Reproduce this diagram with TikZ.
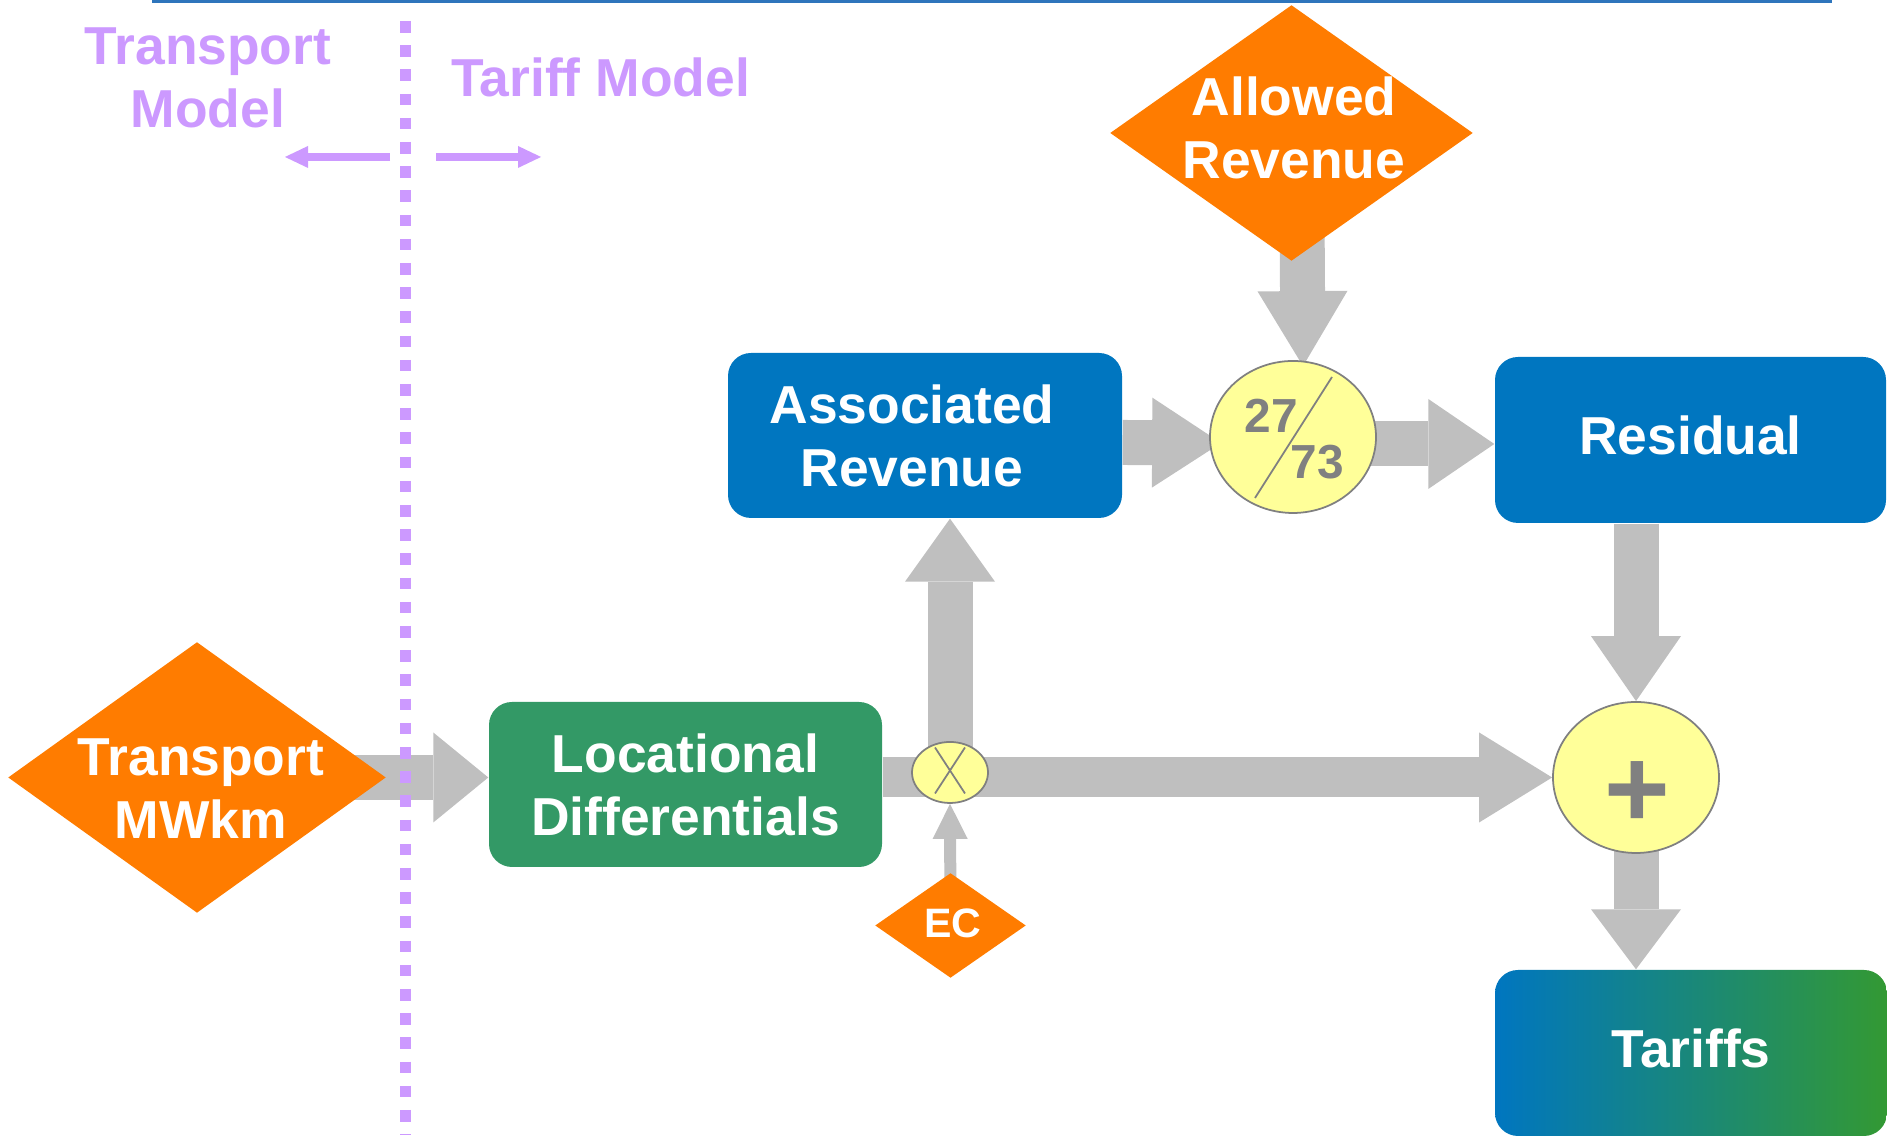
\documentclass[tikz,border=0pt]{standalone}
\usepackage{fontspec}
\setmainfont{Liberation Sans}
\usetikzlibrary{shapes.geometric,arrows.meta,calc,backgrounds}
\definecolor{topblue}{RGB}{46,117,188}
\definecolor{boxblue}{RGB}{0,118,192}
\definecolor{boxgreen}{RGB}{51,153,102}
\definecolor{tariffgreen}{RGB}{51,153,51}
\definecolor{diaorange}{RGB}{255,124,0}
\definecolor{flowgray}{RGB}{191,191,191}
\definecolor{opyellow}{RGB}{255,255,153}
\definecolor{opgray}{RGB}{128,128,128}
\definecolor{modelpurple}{RGB}{204,153,255}
\tikzset{
  bigfont/.style={font=\fontsize{15.2}{17.9}\selectfont\bfseries},
  procbox/.style={rectangle,rounded corners=0.23cm,minimum width=3.93cm,minimum height=1.65cm,
    inner sep=0pt,bigfont,text=white,align=center},
  inputdia/.style={diamond,fill=diaorange,inner sep=0pt},
  diatext/.style={bigfont,text=white,align=center,inner sep=0pt},
  modeltext/.style={bigfont,text=modelpurple,align=center,inner sep=0pt},
  opnode/.style={ellipse,draw=opgray,line width=0.5pt,fill=opyellow,inner sep=0pt},
  optext/.style={font=\fontsize{13.6}{16}\selectfont\bfseries,text=opgray,inner sep=0pt},
  fatarrow/.style={draw=flowgray,line width=0.45cm,-{Triangle[width=0.9cm,length=#1,line width=0pt]}},
  fatarrow/.default=0.66cm,
  thinarrow/.style={draw=#1,line width=0.08cm,-{Triangle[width=0.22cm,length=0.23cm,line width=0pt]}}
}
\begin{document}
\begin{tikzpicture}
\useasboundingbox (0,0) rectangle (18.87,11.47);
\draw[topblue,line width=0.03cm] (1.52,11.455) -- (18.32,11.455);

\node[modeltext] (transportmodel) at (2.08,10.695) {Transport\\Model};
\node[modeltext] (tariffmodel) at (6.005,10.695) {Tariff Model};
\coordinate (modelsplitL) at (3.90,9.90);
\coordinate (modelleft) at (2.85,9.90);
\coordinate (modelsplitR) at (4.36,9.90);
\coordinate (modelright) at (5.41,9.90);
\draw[thinarrow=modelpurple] (modelsplitL) -- (modelleft);
\draw[thinarrow=modelpurple] (modelsplitR) -- (modelright);

\node[inputdia,minimum width=3.78cm,minimum height=2.71cm] (transport) at (1.97,3.695) {};
\node[diatext] (transporttext) at (2.01,3.585) {Transport\\MWkm};
\node[inputdia,minimum width=3.63cm,minimum height=2.56cm] (allowed) at (12.915,10.14) {};
\node[diatext] (allowedtext) at (12.94,10.195) {Allowed\\Revenue};
\node[inputdia,minimum width=1.51cm,minimum height=1.05cm] (ec) at (9.505,2.215) {};
\node[diatext,font=\fontsize{11.7}{14}\selectfont\bfseries] (ectext) at (9.53,2.24) {EC};

\node[procbox,fill=boxgreen] (locdiff) at (6.855,3.625) {Locational\\Differentials};
\node[procbox,fill=boxblue,minimum width=3.94cm] (assoc) at (9.25,7.115) {};
\node[diatext] (assoctext) at (9.12,7.115) {Associated\\Revenue};
\node[procbox,fill=boxblue,minimum width=3.91cm,minimum height=1.66cm,text depth=0.1cm] (residual) at (16.905,7.07) {Residual};
\node[procbox,left color=boxblue,right color=tariffgreen,minimum width=3.92cm,minimum height=1.66cm,text depth=0.1cm] (tariffs) at (16.91,0.94) {Tariffs};

\node[opnode,minimum width=1.66cm,minimum height=1.52cm] (split) at (12.93,7.10) {};
\node[optext] (share27) at (12.71,7.315) {27};
\node[optext] (share73) at (13.17,6.845) {73};
\draw[opgray,line width=0.5pt] ($(split)+(0.39,0.60)$) -- ($(split)+(-0.38,-0.61)$);
\node[opnode,minimum width=0.76cm,minimum height=0.61cm] (cross) at (9.50,3.745) {};
\draw[opgray,line width=0.5pt] ($(cross)+(-0.15,0.25)$) -- ($(cross)+(0.15,-0.21)$);
\draw[opgray,line width=0.5pt] ($(cross)+(0.15,0.25)$) -- ($(cross)+(-0.15,-0.21)$);
\node[opnode,minimum width=1.66cm,minimum height=1.51cm] (plus) at (16.36,3.695) {};
\node[optext,font=\fontsize{32}{36}\selectfont\bfseries] (plustext) at (16.37,3.52) {+};

\begin{scope}[on background layer]
\draw[fatarrow=0.55cm] (transport.center) -- (transport.center -| locdiff.west);
\draw[fatarrow=0.73cm,line width=0.40cm] (locdiff.east |- plus.west) -- (plus.west);
\draw[fatarrow=0.63cm] (cross.center) -- (cross.center |- assoc.south);
\draw[draw=flowgray,line width=0.12cm,-{Triangle[width=0.35cm,length=0.35cm,line width=0pt]}] (ec.center) -- (cross.south);
\draw[fatarrow=0.69cm] ($(assoc.east)+(0,-0.07)$) -- ($(split.west)+(0.12,-0.06)$);
\draw[fatarrow=0.66cm] ($(split.center |- residual.west)+(0,-0.04)$) -- ($(residual.west)+(0,-0.04)$);
\draw[fatarrow=0.75cm] ($(allowed.center)+(0.1,0)$) -- ($(split.north)+(0.1,-0.06)$);
\draw[fatarrow=0.65cm] (plus.north |- residual.south) -- (plus.north);
\draw[fatarrow=0.60cm] (plus.center) -- (plus.center |- tariffs.north);
\end{scope}

\draw[modelpurple,line width=0.117cm,dash pattern=on 0.117cm off 0.125cm] (4.055,11.26) -- (4.055,0.12);
\end{tikzpicture}
\end{document}
